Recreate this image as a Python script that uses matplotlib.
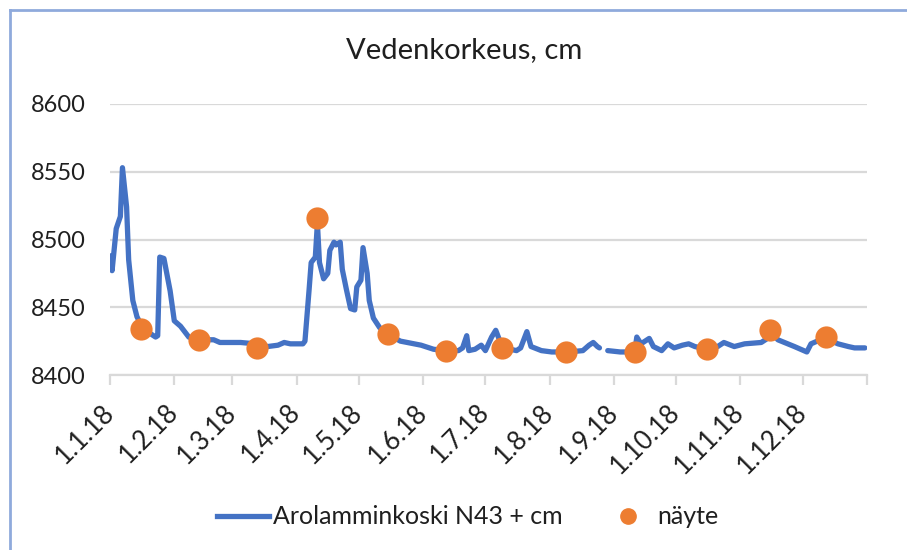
"""Vedenkorkeus (water level) chart, Arolamminkoski N43 + samples, 2018."""
import matplotlib
matplotlib.use('Agg')
import matplotlib.pyplot as plt
import matplotlib.lines as mlines
import numpy as np
import pandas as pd

plt.rcParams['font.family'] = ['Lato', 'DejaVu Sans']

# Water level series (cm)
level_dates = [
    '2018-01-01', '2018-01-02', '2018-01-04', '2018-01-06', '2018-01-07', '2018-01-09',
    '2018-01-10', '2018-01-12', '2018-01-14', '2018-01-17', '2018-01-20', '2018-01-23',
    '2018-01-24', '2018-01-25', '2018-01-27', '2018-01-30', '2018-02-01', '2018-02-04',
    '2018-02-08', '2018-02-14', '2018-02-20', '2018-02-23', '2018-03-05', '2018-03-12',
    '2018-03-18', '2018-03-23', '2018-03-26', '2018-03-29', '2018-04-04', '2018-04-05',
    '2018-04-07', '2018-04-08', '2018-04-10', '2018-04-11', '2018-04-12', '2018-04-14',
    '2018-04-16', '2018-04-17', '2018-04-19', '2018-04-20', '2018-04-22', '2018-04-23',
    '2018-04-25', '2018-04-27', '2018-04-29', '2018-04-30', '2018-05-02', '2018-05-03',
    '2018-05-05', '2018-05-06', '2018-05-08', '2018-05-11', '2018-05-15', '2018-05-21',
    '2018-05-31', '2018-06-06', '2018-06-12', '2018-06-18', '2018-06-20', '2018-06-22',
    '2018-06-23', '2018-06-26', '2018-06-29', '2018-07-01', '2018-07-04', '2018-07-06',
    '2018-07-08', '2018-07-10', '2018-07-16', '2018-07-18', '2018-07-21', '2018-07-23',
    '2018-07-28', '2018-08-02', '2018-08-10', '2018-08-17', '2018-08-20', '2018-08-22',
    '2018-08-24', '2018-08-25', '2018-08-27', '2018-08-29', '2018-09-04', '2018-09-11',
    '2018-09-12', '2018-09-14', '2018-09-16', '2018-09-18', '2018-09-20', '2018-09-24',
    '2018-09-27', '2018-09-30', '2018-10-04', '2018-10-07', '2018-10-10', '2018-10-16',
    '2018-10-21', '2018-10-24', '2018-10-29', '2018-11-03', '2018-11-11', '2018-11-14',
    '2018-11-16', '2018-11-19', '2018-11-27', '2018-12-03', '2018-12-05', '2018-12-08',
    '2018-12-12', '2018-12-18', '2018-12-23', '2018-12-26', '2018-12-31',
]
level_values = [
    8488, 8477, 8508, 8517, 8553, 8524,
    8485, 8455, 8443, 8434, 8431, 8428,
    8429, 8487, 8486, 8462, 8440, 8436,
    8428, 8426, 8426, 8424, 8424, 8423,
    8421, 8422, 8424, 8423, 8423, 8425,
    8463, 8483, 8487, 8512, 8483, 8471,
    8475, 8492, 8498, 8496, 8498, 8478,
    8463, 8449, 8448, 8465, 8470, 8494,
    8475, 8455, 8442, 8435, 8430, 8425,
    8422, 8419, 8418, 8418, 8420, 8429,
    8418, 8419, 8422, 8418, 8428, 8433,
    8425, 8420, 8418, 8420, 8432, 8421,
    8418, 8417, 8417, 8418, 8422, 8424,
    8421, 8420, np.nan, 8418, 8417, 8417,
    8428, 8423, 8425, 8427, 8421, 8418,
    8423, 8420, 8422, 8423, 8421, 8419,
    8421, 8424, 8421, 8423, 8424, 8427,
    8432, 8426, 8421, 8417, 8423, 8425,
    8427, 8423, 8421, 8420, 8420,
]

# Sample points ("näyte")
sample_dates = [
    '2018-01-16', '2018-02-13', '2018-03-13', '2018-04-11', '2018-05-15', '2018-06-12',
    '2018-07-09', '2018-08-09', '2018-09-11', '2018-10-16', '2018-11-15', '2018-12-12',
]
sample_values = [8434, 8426, 8420, 8516, 8430, 8418, 8420, 8417, 8417, 8419, 8433, 8428]

month_ticks = pd.date_range('2018-01-01', '2019-01-01', freq='MS')
month_labels = ['1.1.18', '1.2.18', '1.3.18', '1.4.18', '1.5.18', '1.6.18',
                '1.7.18', '1.8.18', '1.9.18', '1.10.18', '1.11.18', '1.12.18', '']

LINE_COLOR = '#4472C4'
DOT_COLOR = '#ED7D31'
GRID_COLOR = '#D9D9D9'
TEXT_COLOR = '#1F1F1F'

fig = plt.figure(figsize=(9.07, 5.5), dpi=100)
ax = fig.add_axes([110 / 907, 1 - 375 / 550, 757 / 907, 271 / 550])

x_line = pd.to_datetime(level_dates)
x_dots = pd.to_datetime(sample_dates)
ax.plot(x_line, level_values, color=LINE_COLOR, linewidth=3.8, solid_joinstyle='round',
        solid_capstyle='round', zorder=3)
ax.plot(x_dots, sample_values, linestyle='none', marker='o', markersize=16,
        color=DOT_COLOR, markeredgewidth=0, zorder=4)

ax.set_xlim(month_ticks[0], month_ticks[-1])
ax.set_ylim(8400, 8600)
ax.set_yticks([8400, 8450, 8500, 8550, 8600])
ax.yaxis.grid(True, color=GRID_COLOR, linewidth=1.6)
ax.set_axisbelow(True)

ax.set_xticks(month_ticks)
ax.set_xticklabels(month_labels, rotation=45, ha='right', va='center',
                   rotation_mode='anchor', fontsize=18.5, color=TEXT_COLOR)
ax.tick_params(axis='x', length=7, width=1.6, color=GRID_COLOR, pad=17)
ax.tick_params(axis='y', length=0, labelsize=17, labelcolor=TEXT_COLOR, pad=17.5)

for side in ['top', 'right', 'left']:
    ax.spines[side].set_visible(False)
ax.spines['bottom'].set_color(GRID_COLOR)
ax.spines['bottom'].set_linewidth(1.6)

fig.text(464 / 907, 1 - 50 / 550, 'Vedenkorkeus, cm', ha='center', va='center',
         fontsize=21, color=TEXT_COLOR)

handles = [
    mlines.Line2D([], [], color=LINE_COLOR, linewidth=3.8),
    mlines.Line2D([], [], color=DOT_COLOR, marker='o', markersize=11, linestyle='none'),
]
fig.legend(handles, ['Arolamminkoski N43 + cm', 'näyte'], loc='center',
           bbox_to_anchor=(468 / 907, 1 - 517 / 550), ncol=2, frameon=False,
           fontsize=18, handlelength=2.08, columnspacing=1.56, handletextpad=0.16,
           labelcolor=TEXT_COLOR)

# Chart area border (only top and left edges show in the crop)
border = dict(color='#8FAADC', linewidth=2.0, transform=fig.transFigure)
fig.add_artist(mlines.Line2D([10 / 907, 1.0], [1 - 10 / 550, 1 - 10 / 550], **border))
fig.add_artist(mlines.Line2D([10 / 907, 10 / 907], [1 - 10 / 550, 0.0], **border))

fig.savefig('out.png', dpi=100)
